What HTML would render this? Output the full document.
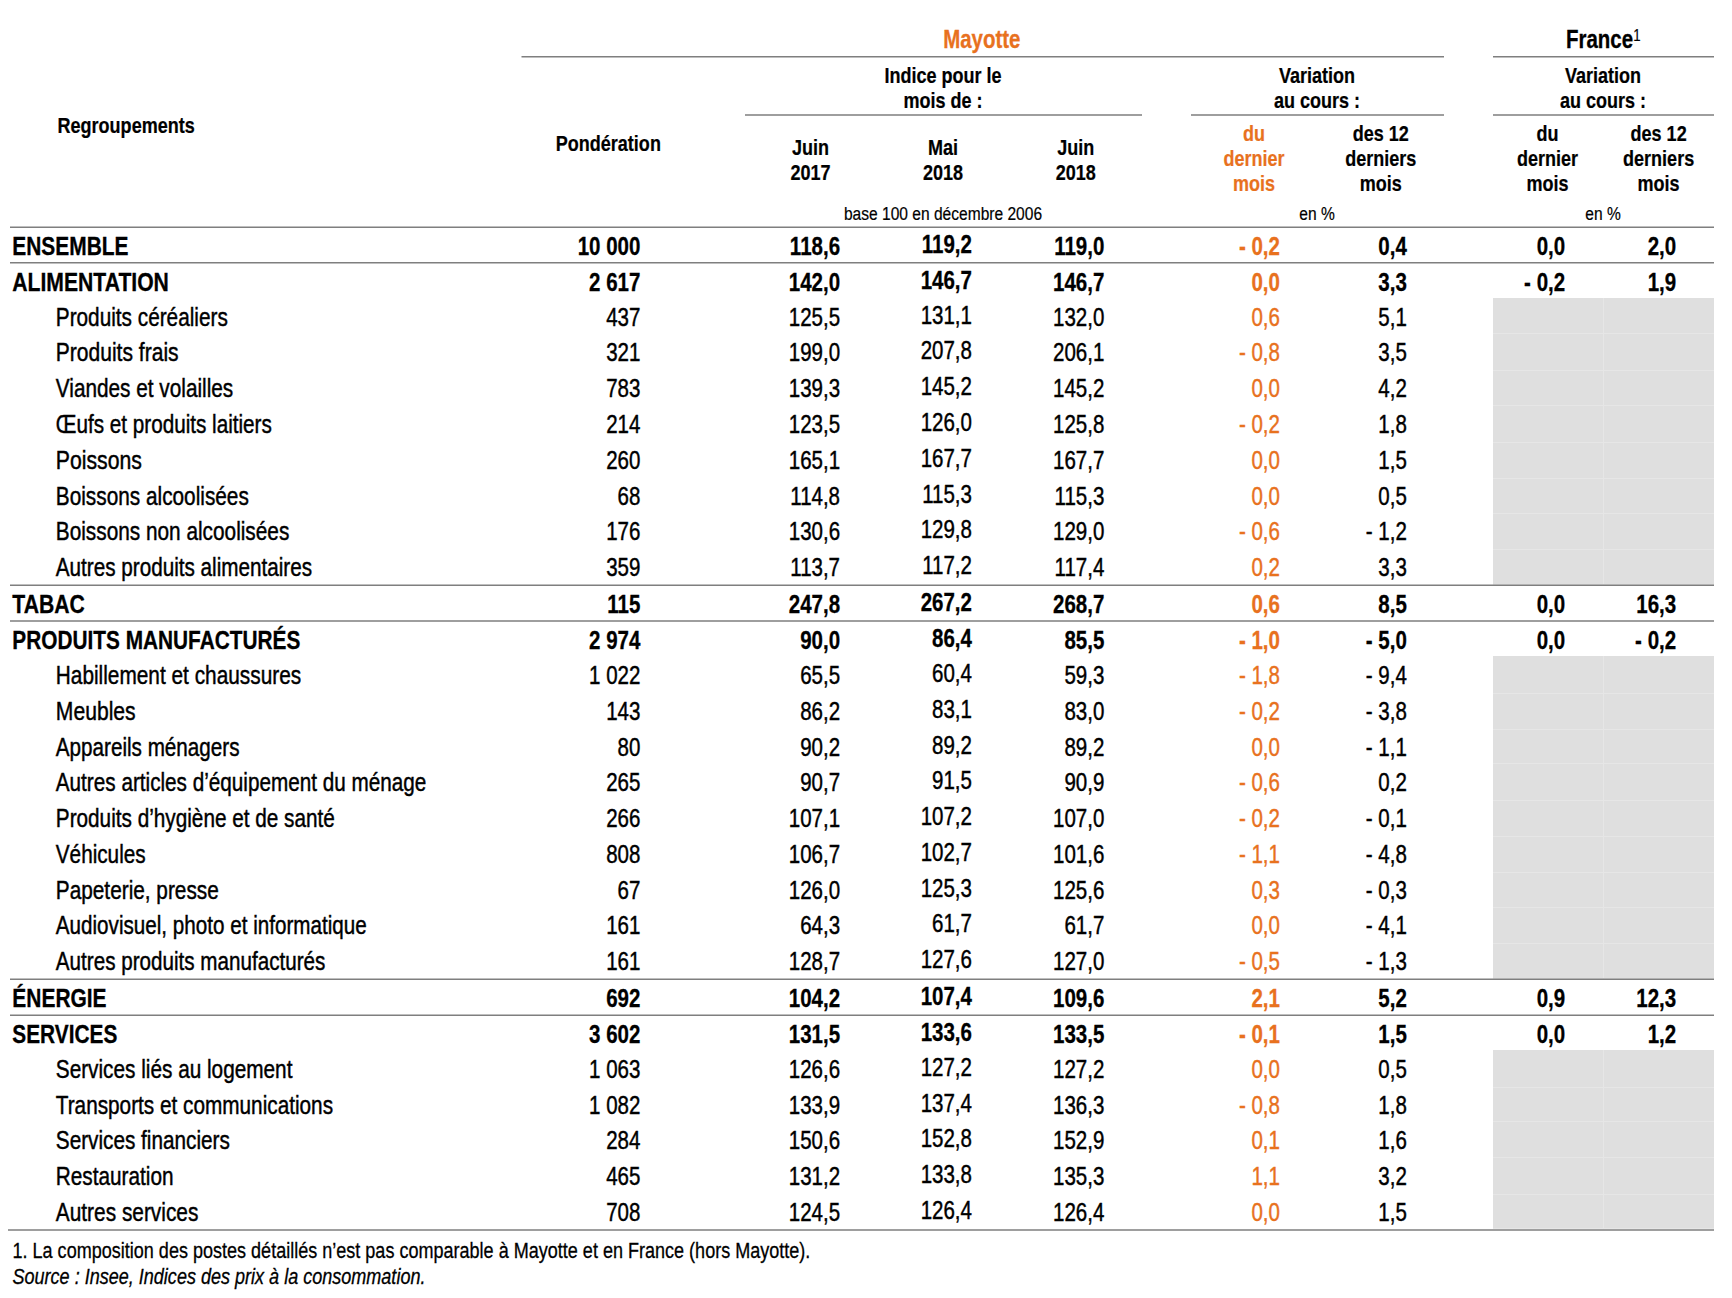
<!DOCTYPE html>
<html><head><meta charset="utf-8"><title>Indices des prix</title>
<style>
html,body{margin:0;padding:0;background:#fff;}
body{width:1732px;height:1298px;overflow:hidden;}
svg{display:block;font-family:"Liberation Sans",sans-serif;}
</style></head><body>
<svg width="1732" height="1298" viewBox="0 0 1732 1298">
<rect width="1732" height="1298" fill="#fff"/>
<rect x="1493" y="298" width="221" height="287" fill="#dfdfdf"/>
<rect x="1603" y="298" width="1" height="287" fill="#e6e6e6"/>
<rect x="1493" y="333" width="221" height="1" fill="#e6e6e6"/>
<rect x="1493" y="370" width="221" height="1" fill="#e6e6e6"/>
<rect x="1493" y="405" width="221" height="1" fill="#e6e6e6"/>
<rect x="1493" y="442" width="221" height="1" fill="#e6e6e6"/>
<rect x="1493" y="478" width="221" height="1" fill="#e6e6e6"/>
<rect x="1493" y="513" width="221" height="1" fill="#e6e6e6"/>
<rect x="1493" y="549" width="221" height="1" fill="#e6e6e6"/>
<rect x="1493" y="584" width="221" height="1" fill="#e6e6e6"/>
<rect x="1493" y="656" width="221" height="323" fill="#dfdfdf"/>
<rect x="1603" y="656" width="1" height="323" fill="#e6e6e6"/>
<rect x="1493" y="693" width="221" height="1" fill="#e6e6e6"/>
<rect x="1493" y="729" width="221" height="1" fill="#e6e6e6"/>
<rect x="1493" y="763" width="221" height="1" fill="#e6e6e6"/>
<rect x="1493" y="800" width="221" height="1" fill="#e6e6e6"/>
<rect x="1493" y="836" width="221" height="1" fill="#e6e6e6"/>
<rect x="1493" y="872" width="221" height="1" fill="#e6e6e6"/>
<rect x="1493" y="907" width="221" height="1" fill="#e6e6e6"/>
<rect x="1493" y="943" width="221" height="1" fill="#e6e6e6"/>
<rect x="1493" y="978" width="221" height="1" fill="#e6e6e6"/>
<rect x="1493" y="1050" width="221" height="179" fill="#dfdfdf"/>
<rect x="1603" y="1050" width="1" height="179" fill="#e6e6e6"/>
<rect x="1493" y="1087" width="221" height="1" fill="#e6e6e6"/>
<rect x="1493" y="1121" width="221" height="1" fill="#e6e6e6"/>
<rect x="1493" y="1157" width="221" height="1" fill="#e6e6e6"/>
<rect x="1493" y="1194" width="221" height="1" fill="#e6e6e6"/>
<rect x="1493" y="1228" width="221" height="1" fill="#e6e6e6"/>
<rect x="521.5" y="56.00" width="922.5" height="1.5" fill="#7f7f7f"/>
<rect x="1493" y="56.00" width="221" height="1.5" fill="#7f7f7f"/>
<rect x="745" y="114.25" width="397" height="1.5" fill="#7f7f7f"/>
<rect x="1191" y="114.25" width="253" height="1.5" fill="#7f7f7f"/>
<rect x="1493" y="114.25" width="221" height="1.5" fill="#7f7f7f"/>
<rect x="10" y="226.50" width="1704" height="1.5" fill="#7f7f7f"/>
<rect x="10" y="262.00" width="1704" height="1.5" fill="#7f7f7f"/>
<rect x="10" y="584.50" width="1704" height="1.5" fill="#7f7f7f"/>
<rect x="10" y="620.25" width="1704" height="1.5" fill="#7f7f7f"/>
<rect x="10" y="978.50" width="1704" height="1.5" fill="#7f7f7f"/>
<rect x="10" y="1014.50" width="1704" height="1.5" fill="#7f7f7f"/>
<rect x="8" y="1229.25" width="1706" height="1.5" fill="#7f7f7f"/>
<text transform="translate(981.80,47.80) scale(0.787,1)" font-size="26" font-weight="bold" fill="#e8711e" text-anchor="middle" stroke="#e8711e" stroke-width="0.3">Mayotte</text>
<text transform="translate(1599.50,47.80) scale(0.787,1)" font-size="26" font-weight="bold" fill="#000" text-anchor="middle" stroke="#000" stroke-width="0.3">France</text>
<text transform="translate(1636.80,41.00) scale(0.8,1)" font-size="16.5" font-weight="normal" fill="#000" text-anchor="middle" stroke="#000" stroke-width="0.2">1</text>
<text transform="translate(57.50,132.90) scale(0.82,1)" font-size="22" font-weight="bold" fill="#000" text-anchor="start" stroke="#000" stroke-width="0.22">Regroupements</text>
<text transform="translate(608.30,150.90) scale(0.82,1)" font-size="22" font-weight="bold" fill="#000" text-anchor="middle" stroke="#000" stroke-width="0.22">Pondération</text>
<text transform="translate(943.00,83.00) scale(0.82,1)" font-size="22" font-weight="bold" fill="#000" text-anchor="middle" stroke="#000" stroke-width="0.22">Indice pour le</text>
<text transform="translate(943.00,107.80) scale(0.82,1)" font-size="22" font-weight="bold" fill="#000" text-anchor="middle" stroke="#000" stroke-width="0.22">mois de :</text>
<text transform="translate(810.50,154.70) scale(0.82,1)" font-size="22" font-weight="bold" fill="#000" text-anchor="middle" stroke="#000" stroke-width="0.22">Juin</text>
<text transform="translate(810.50,179.60) scale(0.82,1)" font-size="22" font-weight="bold" fill="#000" text-anchor="middle" stroke="#000" stroke-width="0.22">2017</text>
<text transform="translate(943.00,154.70) scale(0.82,1)" font-size="22" font-weight="bold" fill="#000" text-anchor="middle" stroke="#000" stroke-width="0.22">Mai</text>
<text transform="translate(943.00,179.60) scale(0.82,1)" font-size="22" font-weight="bold" fill="#000" text-anchor="middle" stroke="#000" stroke-width="0.22">2018</text>
<text transform="translate(1075.80,154.70) scale(0.82,1)" font-size="22" font-weight="bold" fill="#000" text-anchor="middle" stroke="#000" stroke-width="0.22">Juin</text>
<text transform="translate(1075.80,179.60) scale(0.82,1)" font-size="22" font-weight="bold" fill="#000" text-anchor="middle" stroke="#000" stroke-width="0.22">2018</text>
<text transform="translate(943.00,219.60) scale(0.82,1)" font-size="19" font-weight="normal" fill="#000" text-anchor="middle" stroke="#000" stroke-width="0.2">base 100 en décembre 2006</text>
<text transform="translate(1317.00,82.50) scale(0.82,1)" font-size="22" font-weight="bold" fill="#000" text-anchor="middle" stroke="#000" stroke-width="0.22">Variation</text>
<text transform="translate(1317.00,107.50) scale(0.82,1)" font-size="22" font-weight="bold" fill="#000" text-anchor="middle" stroke="#000" stroke-width="0.22">au cours :</text>
<text transform="translate(1317.00,219.60) scale(0.82,1)" font-size="19" font-weight="normal" fill="#000" text-anchor="middle" stroke="#000" stroke-width="0.2">en %</text>
<text transform="translate(1603.00,82.50) scale(0.82,1)" font-size="22" font-weight="bold" fill="#000" text-anchor="middle" stroke="#000" stroke-width="0.22">Variation</text>
<text transform="translate(1603.00,107.50) scale(0.82,1)" font-size="22" font-weight="bold" fill="#000" text-anchor="middle" stroke="#000" stroke-width="0.22">au cours :</text>
<text transform="translate(1603.00,219.60) scale(0.82,1)" font-size="19" font-weight="normal" fill="#000" text-anchor="middle" stroke="#000" stroke-width="0.2">en %</text>
<text transform="translate(1254.00,141.30) scale(0.82,1)" font-size="22" font-weight="bold" fill="#e8711e" text-anchor="middle" stroke="#e8711e" stroke-width="0.22">du</text>
<text transform="translate(1254.00,166.30) scale(0.82,1)" font-size="22" font-weight="bold" fill="#e8711e" text-anchor="middle" stroke="#e8711e" stroke-width="0.22">dernier</text>
<text transform="translate(1254.00,191.20) scale(0.82,1)" font-size="22" font-weight="bold" fill="#e8711e" text-anchor="middle" stroke="#e8711e" stroke-width="0.22">mois</text>
<text transform="translate(1547.50,141.30) scale(0.82,1)" font-size="22" font-weight="bold" fill="#000" text-anchor="middle" stroke="#000" stroke-width="0.22">du</text>
<text transform="translate(1547.50,166.30) scale(0.82,1)" font-size="22" font-weight="bold" fill="#000" text-anchor="middle" stroke="#000" stroke-width="0.22">dernier</text>
<text transform="translate(1547.50,191.20) scale(0.82,1)" font-size="22" font-weight="bold" fill="#000" text-anchor="middle" stroke="#000" stroke-width="0.22">mois</text>
<text transform="translate(1380.70,141.30) scale(0.82,1)" font-size="22" font-weight="bold" fill="#000" text-anchor="middle" stroke="#000" stroke-width="0.22">des 12</text>
<text transform="translate(1380.70,166.30) scale(0.82,1)" font-size="22" font-weight="bold" fill="#000" text-anchor="middle" stroke="#000" stroke-width="0.22">derniers</text>
<text transform="translate(1380.70,191.20) scale(0.82,1)" font-size="22" font-weight="bold" fill="#000" text-anchor="middle" stroke="#000" stroke-width="0.22">mois</text>
<text transform="translate(1658.60,141.30) scale(0.82,1)" font-size="22" font-weight="bold" fill="#000" text-anchor="middle" stroke="#000" stroke-width="0.22">des 12</text>
<text transform="translate(1658.60,166.30) scale(0.82,1)" font-size="22" font-weight="bold" fill="#000" text-anchor="middle" stroke="#000" stroke-width="0.22">derniers</text>
<text transform="translate(1658.60,191.20) scale(0.82,1)" font-size="22" font-weight="bold" fill="#000" text-anchor="middle" stroke="#000" stroke-width="0.22">mois</text>
<text transform="translate(12.30,254.80) scale(0.8050192307692307,1)" font-size="26" font-weight="bold" fill="#000" text-anchor="start" stroke="#000" stroke-width="0.3">ENSEMBLE</text>
<text transform="translate(640.33,254.80) scale(0.7884615384615384,1)" font-size="26" font-weight="bold" fill="#000" text-anchor="end" stroke="#000" stroke-width="0.3">10 000</text>
<text transform="translate(840.03,254.80) scale(0.7884615384615384,1)" font-size="26" font-weight="bold" fill="#000" text-anchor="end" stroke="#000" stroke-width="0.3">118,6</text>
<text transform="translate(971.93,252.80) scale(0.7884615384615384,1)" font-size="26" font-weight="bold" fill="#000" text-anchor="end" stroke="#000" stroke-width="0.3">119,2</text>
<text transform="translate(1104.33,254.80) scale(0.7884615384615384,1)" font-size="26" font-weight="bold" fill="#000" text-anchor="end" stroke="#000" stroke-width="0.3">119,0</text>
<text transform="translate(1279.93,254.80) scale(0.7884615384615384,1)" font-size="26" font-weight="bold" fill="#e8711e" text-anchor="end" stroke="#e8711e" stroke-width="0.3">- 0,2</text>
<text transform="translate(1406.83,254.80) scale(0.7884615384615384,1)" font-size="26" font-weight="bold" fill="#000" text-anchor="end" stroke="#000" stroke-width="0.3">0,4</text>
<text transform="translate(1565.13,254.80) scale(0.7884615384615384,1)" font-size="26" font-weight="bold" fill="#000" text-anchor="end" stroke="#000" stroke-width="0.3">0,0</text>
<text transform="translate(1676.13,254.80) scale(0.7884615384615384,1)" font-size="26" font-weight="bold" fill="#000" text-anchor="end" stroke="#000" stroke-width="0.3">2,0</text>
<text transform="translate(12.30,290.50) scale(0.8136923076923077,1)" font-size="26" font-weight="bold" fill="#000" text-anchor="start" stroke="#000" stroke-width="0.3">ALIMENTATION</text>
<text transform="translate(640.33,290.50) scale(0.7884615384615384,1)" font-size="26" font-weight="bold" fill="#000" text-anchor="end" stroke="#000" stroke-width="0.3">2 617</text>
<text transform="translate(840.03,290.50) scale(0.7884615384615384,1)" font-size="26" font-weight="bold" fill="#000" text-anchor="end" stroke="#000" stroke-width="0.3">142,0</text>
<text transform="translate(971.93,288.50) scale(0.7884615384615384,1)" font-size="26" font-weight="bold" fill="#000" text-anchor="end" stroke="#000" stroke-width="0.3">146,7</text>
<text transform="translate(1104.33,290.50) scale(0.7884615384615384,1)" font-size="26" font-weight="bold" fill="#000" text-anchor="end" stroke="#000" stroke-width="0.3">146,7</text>
<text transform="translate(1279.93,290.50) scale(0.7884615384615384,1)" font-size="26" font-weight="bold" fill="#e8711e" text-anchor="end" stroke="#e8711e" stroke-width="0.3">0,0</text>
<text transform="translate(1406.83,290.50) scale(0.7884615384615384,1)" font-size="26" font-weight="bold" fill="#000" text-anchor="end" stroke="#000" stroke-width="0.3">3,3</text>
<text transform="translate(1565.13,290.50) scale(0.7884615384615384,1)" font-size="26" font-weight="bold" fill="#000" text-anchor="end" stroke="#000" stroke-width="0.3">- 0,2</text>
<text transform="translate(1676.13,290.50) scale(0.7884615384615384,1)" font-size="26" font-weight="bold" fill="#000" text-anchor="end" stroke="#000" stroke-width="0.3">1,9</text>
<text transform="translate(55.80,325.50) scale(0.7995,1)" font-size="26" font-weight="normal" fill="#000" text-anchor="start" stroke="#000" stroke-width="0.45">Produits céréaliers</text>
<text transform="translate(640.33,325.50) scale(0.7884615384615384,1)" font-size="26" font-weight="normal" fill="#000" text-anchor="end" stroke="#000" stroke-width="0.45">437</text>
<text transform="translate(840.03,325.50) scale(0.7884615384615384,1)" font-size="26" font-weight="normal" fill="#000" text-anchor="end" stroke="#000" stroke-width="0.45">125,5</text>
<text transform="translate(971.93,323.50) scale(0.7884615384615384,1)" font-size="26" font-weight="normal" fill="#000" text-anchor="end" stroke="#000" stroke-width="0.45">131,1</text>
<text transform="translate(1104.33,325.50) scale(0.7884615384615384,1)" font-size="26" font-weight="normal" fill="#000" text-anchor="end" stroke="#000" stroke-width="0.45">132,0</text>
<text transform="translate(1279.93,325.50) scale(0.7884615384615384,1)" font-size="26" font-weight="normal" fill="#e8711e" text-anchor="end" stroke="#e8711e" stroke-width="0.45">0,6</text>
<text transform="translate(1406.83,325.50) scale(0.7884615384615384,1)" font-size="26" font-weight="normal" fill="#000" text-anchor="end" stroke="#000" stroke-width="0.45">5,1</text>
<text transform="translate(55.80,360.70) scale(0.8097499999999999,1)" font-size="26" font-weight="normal" fill="#000" text-anchor="start" stroke="#000" stroke-width="0.45">Produits frais</text>
<text transform="translate(640.33,360.70) scale(0.7884615384615384,1)" font-size="26" font-weight="normal" fill="#000" text-anchor="end" stroke="#000" stroke-width="0.45">321</text>
<text transform="translate(840.03,360.70) scale(0.7884615384615384,1)" font-size="26" font-weight="normal" fill="#000" text-anchor="end" stroke="#000" stroke-width="0.45">199,0</text>
<text transform="translate(971.93,358.70) scale(0.7884615384615384,1)" font-size="26" font-weight="normal" fill="#000" text-anchor="end" stroke="#000" stroke-width="0.45">207,8</text>
<text transform="translate(1104.33,360.70) scale(0.7884615384615384,1)" font-size="26" font-weight="normal" fill="#000" text-anchor="end" stroke="#000" stroke-width="0.45">206,1</text>
<text transform="translate(1279.93,360.70) scale(0.7884615384615384,1)" font-size="26" font-weight="normal" fill="#e8711e" text-anchor="end" stroke="#e8711e" stroke-width="0.45">- 0,8</text>
<text transform="translate(1406.83,360.70) scale(0.7884615384615384,1)" font-size="26" font-weight="normal" fill="#000" text-anchor="end" stroke="#000" stroke-width="0.45">3,5</text>
<text transform="translate(55.80,397.00) scale(0.7995,1)" font-size="26" font-weight="normal" fill="#000" text-anchor="start" stroke="#000" stroke-width="0.45">Viandes et volailles</text>
<text transform="translate(640.33,397.00) scale(0.7884615384615384,1)" font-size="26" font-weight="normal" fill="#000" text-anchor="end" stroke="#000" stroke-width="0.45">783</text>
<text transform="translate(840.03,397.00) scale(0.7884615384615384,1)" font-size="26" font-weight="normal" fill="#000" text-anchor="end" stroke="#000" stroke-width="0.45">139,3</text>
<text transform="translate(971.93,395.00) scale(0.7884615384615384,1)" font-size="26" font-weight="normal" fill="#000" text-anchor="end" stroke="#000" stroke-width="0.45">145,2</text>
<text transform="translate(1104.33,397.00) scale(0.7884615384615384,1)" font-size="26" font-weight="normal" fill="#000" text-anchor="end" stroke="#000" stroke-width="0.45">145,2</text>
<text transform="translate(1279.93,397.00) scale(0.7884615384615384,1)" font-size="26" font-weight="normal" fill="#e8711e" text-anchor="end" stroke="#e8711e" stroke-width="0.45">0,0</text>
<text transform="translate(1406.83,397.00) scale(0.7884615384615384,1)" font-size="26" font-weight="normal" fill="#000" text-anchor="end" stroke="#000" stroke-width="0.45">4,2</text>
<text transform="translate(55.80,432.60) scale(0.7955576923076922,1)" font-size="26" font-weight="normal" fill="#000" text-anchor="start" stroke="#000" stroke-width="0.45">Œufs et produits laitiers</text>
<text transform="translate(640.33,432.60) scale(0.7884615384615384,1)" font-size="26" font-weight="normal" fill="#000" text-anchor="end" stroke="#000" stroke-width="0.45">214</text>
<text transform="translate(840.03,432.60) scale(0.7884615384615384,1)" font-size="26" font-weight="normal" fill="#000" text-anchor="end" stroke="#000" stroke-width="0.45">123,5</text>
<text transform="translate(971.93,430.60) scale(0.7884615384615384,1)" font-size="26" font-weight="normal" fill="#000" text-anchor="end" stroke="#000" stroke-width="0.45">126,0</text>
<text transform="translate(1104.33,432.60) scale(0.7884615384615384,1)" font-size="26" font-weight="normal" fill="#000" text-anchor="end" stroke="#000" stroke-width="0.45">125,8</text>
<text transform="translate(1279.93,432.60) scale(0.7884615384615384,1)" font-size="26" font-weight="normal" fill="#e8711e" text-anchor="end" stroke="#e8711e" stroke-width="0.45">- 0,2</text>
<text transform="translate(1406.83,432.60) scale(0.7884615384615384,1)" font-size="26" font-weight="normal" fill="#000" text-anchor="end" stroke="#000" stroke-width="0.45">1,8</text>
<text transform="translate(55.80,469.00) scale(0.8160576923076922,1)" font-size="26" font-weight="normal" fill="#000" text-anchor="start" stroke="#000" stroke-width="0.45">Poissons</text>
<text transform="translate(640.33,469.00) scale(0.7884615384615384,1)" font-size="26" font-weight="normal" fill="#000" text-anchor="end" stroke="#000" stroke-width="0.45">260</text>
<text transform="translate(840.03,469.00) scale(0.7884615384615384,1)" font-size="26" font-weight="normal" fill="#000" text-anchor="end" stroke="#000" stroke-width="0.45">165,1</text>
<text transform="translate(971.93,467.00) scale(0.7884615384615384,1)" font-size="26" font-weight="normal" fill="#000" text-anchor="end" stroke="#000" stroke-width="0.45">167,7</text>
<text transform="translate(1104.33,469.00) scale(0.7884615384615384,1)" font-size="26" font-weight="normal" fill="#000" text-anchor="end" stroke="#000" stroke-width="0.45">167,7</text>
<text transform="translate(1279.93,469.00) scale(0.7884615384615384,1)" font-size="26" font-weight="normal" fill="#e8711e" text-anchor="end" stroke="#e8711e" stroke-width="0.45">0,0</text>
<text transform="translate(1406.83,469.00) scale(0.7884615384615384,1)" font-size="26" font-weight="normal" fill="#000" text-anchor="end" stroke="#000" stroke-width="0.45">1,5</text>
<text transform="translate(55.80,505.00) scale(0.8002884615384614,1)" font-size="26" font-weight="normal" fill="#000" text-anchor="start" stroke="#000" stroke-width="0.45">Boissons alcoolisées</text>
<text transform="translate(640.33,505.00) scale(0.7884615384615384,1)" font-size="26" font-weight="normal" fill="#000" text-anchor="end" stroke="#000" stroke-width="0.45">68</text>
<text transform="translate(840.03,505.00) scale(0.7884615384615384,1)" font-size="26" font-weight="normal" fill="#000" text-anchor="end" stroke="#000" stroke-width="0.45">114,8</text>
<text transform="translate(971.93,503.00) scale(0.7884615384615384,1)" font-size="26" font-weight="normal" fill="#000" text-anchor="end" stroke="#000" stroke-width="0.45">115,3</text>
<text transform="translate(1104.33,505.00) scale(0.7884615384615384,1)" font-size="26" font-weight="normal" fill="#000" text-anchor="end" stroke="#000" stroke-width="0.45">115,3</text>
<text transform="translate(1279.93,505.00) scale(0.7884615384615384,1)" font-size="26" font-weight="normal" fill="#e8711e" text-anchor="end" stroke="#e8711e" stroke-width="0.45">0,0</text>
<text transform="translate(1406.83,505.00) scale(0.7884615384615384,1)" font-size="26" font-weight="normal" fill="#000" text-anchor="end" stroke="#000" stroke-width="0.45">0,5</text>
<text transform="translate(55.80,540.00) scale(0.8002884615384614,1)" font-size="26" font-weight="normal" fill="#000" text-anchor="start" stroke="#000" stroke-width="0.45">Boissons non alcoolisées</text>
<text transform="translate(640.33,540.00) scale(0.7884615384615384,1)" font-size="26" font-weight="normal" fill="#000" text-anchor="end" stroke="#000" stroke-width="0.45">176</text>
<text transform="translate(840.03,540.00) scale(0.7884615384615384,1)" font-size="26" font-weight="normal" fill="#000" text-anchor="end" stroke="#000" stroke-width="0.45">130,6</text>
<text transform="translate(971.93,538.00) scale(0.7884615384615384,1)" font-size="26" font-weight="normal" fill="#000" text-anchor="end" stroke="#000" stroke-width="0.45">129,8</text>
<text transform="translate(1104.33,540.00) scale(0.7884615384615384,1)" font-size="26" font-weight="normal" fill="#000" text-anchor="end" stroke="#000" stroke-width="0.45">129,0</text>
<text transform="translate(1279.93,540.00) scale(0.7884615384615384,1)" font-size="26" font-weight="normal" fill="#e8711e" text-anchor="end" stroke="#e8711e" stroke-width="0.45">- 0,6</text>
<text transform="translate(1406.83,540.00) scale(0.7884615384615384,1)" font-size="26" font-weight="normal" fill="#000" text-anchor="end" stroke="#000" stroke-width="0.45">- 1,2</text>
<text transform="translate(55.80,576.00) scale(0.7955576923076922,1)" font-size="26" font-weight="normal" fill="#000" text-anchor="start" stroke="#000" stroke-width="0.45">Autres produits alimentaires</text>
<text transform="translate(640.33,576.00) scale(0.7884615384615384,1)" font-size="26" font-weight="normal" fill="#000" text-anchor="end" stroke="#000" stroke-width="0.45">359</text>
<text transform="translate(840.03,576.00) scale(0.7884615384615384,1)" font-size="26" font-weight="normal" fill="#000" text-anchor="end" stroke="#000" stroke-width="0.45">113,7</text>
<text transform="translate(971.93,574.00) scale(0.7884615384615384,1)" font-size="26" font-weight="normal" fill="#000" text-anchor="end" stroke="#000" stroke-width="0.45">117,2</text>
<text transform="translate(1104.33,576.00) scale(0.7884615384615384,1)" font-size="26" font-weight="normal" fill="#000" text-anchor="end" stroke="#000" stroke-width="0.45">117,4</text>
<text transform="translate(1279.93,576.00) scale(0.7884615384615384,1)" font-size="26" font-weight="normal" fill="#e8711e" text-anchor="end" stroke="#e8711e" stroke-width="0.45">0,2</text>
<text transform="translate(1406.83,576.00) scale(0.7884615384615384,1)" font-size="26" font-weight="normal" fill="#000" text-anchor="end" stroke="#000" stroke-width="0.45">3,3</text>
<text transform="translate(12.30,612.60) scale(0.8144807692307692,1)" font-size="26" font-weight="bold" fill="#000" text-anchor="start" stroke="#000" stroke-width="0.3">TABAC</text>
<text transform="translate(640.33,612.60) scale(0.7884615384615384,1)" font-size="26" font-weight="bold" fill="#000" text-anchor="end" stroke="#000" stroke-width="0.3">115</text>
<text transform="translate(840.03,612.60) scale(0.7884615384615384,1)" font-size="26" font-weight="bold" fill="#000" text-anchor="end" stroke="#000" stroke-width="0.3">247,8</text>
<text transform="translate(971.93,610.60) scale(0.7884615384615384,1)" font-size="26" font-weight="bold" fill="#000" text-anchor="end" stroke="#000" stroke-width="0.3">267,2</text>
<text transform="translate(1104.33,612.60) scale(0.7884615384615384,1)" font-size="26" font-weight="bold" fill="#000" text-anchor="end" stroke="#000" stroke-width="0.3">268,7</text>
<text transform="translate(1279.93,612.60) scale(0.7884615384615384,1)" font-size="26" font-weight="bold" fill="#e8711e" text-anchor="end" stroke="#e8711e" stroke-width="0.3">0,6</text>
<text transform="translate(1406.83,612.60) scale(0.7884615384615384,1)" font-size="26" font-weight="bold" fill="#000" text-anchor="end" stroke="#000" stroke-width="0.3">8,5</text>
<text transform="translate(1565.13,612.60) scale(0.7884615384615384,1)" font-size="26" font-weight="bold" fill="#000" text-anchor="end" stroke="#000" stroke-width="0.3">0,0</text>
<text transform="translate(1676.13,612.60) scale(0.7884615384615384,1)" font-size="26" font-weight="bold" fill="#000" text-anchor="end" stroke="#000" stroke-width="0.3">16,3</text>
<text transform="translate(12.30,648.60) scale(0.801076923076923,1)" font-size="26" font-weight="bold" fill="#000" text-anchor="start" stroke="#000" stroke-width="0.3">PRODUITS MANUFACTURÉS</text>
<text transform="translate(640.33,648.60) scale(0.7884615384615384,1)" font-size="26" font-weight="bold" fill="#000" text-anchor="end" stroke="#000" stroke-width="0.3">2 974</text>
<text transform="translate(840.03,648.60) scale(0.7884615384615384,1)" font-size="26" font-weight="bold" fill="#000" text-anchor="end" stroke="#000" stroke-width="0.3">90,0</text>
<text transform="translate(971.93,646.60) scale(0.7884615384615384,1)" font-size="26" font-weight="bold" fill="#000" text-anchor="end" stroke="#000" stroke-width="0.3">86,4</text>
<text transform="translate(1104.33,648.60) scale(0.7884615384615384,1)" font-size="26" font-weight="bold" fill="#000" text-anchor="end" stroke="#000" stroke-width="0.3">85,5</text>
<text transform="translate(1279.93,648.60) scale(0.7884615384615384,1)" font-size="26" font-weight="bold" fill="#e8711e" text-anchor="end" stroke="#e8711e" stroke-width="0.3">- 1,0</text>
<text transform="translate(1406.83,648.60) scale(0.7884615384615384,1)" font-size="26" font-weight="bold" fill="#000" text-anchor="end" stroke="#000" stroke-width="0.3">- 5,0</text>
<text transform="translate(1565.13,648.60) scale(0.7884615384615384,1)" font-size="26" font-weight="bold" fill="#000" text-anchor="end" stroke="#000" stroke-width="0.3">0,0</text>
<text transform="translate(1676.13,648.60) scale(0.7884615384615384,1)" font-size="26" font-weight="bold" fill="#000" text-anchor="end" stroke="#000" stroke-width="0.3">- 0,2</text>
<text transform="translate(55.80,684.00) scale(0.801076923076923,1)" font-size="26" font-weight="normal" fill="#000" text-anchor="start" stroke="#000" stroke-width="0.45">Habillement et chaussures</text>
<text transform="translate(640.33,684.00) scale(0.7884615384615384,1)" font-size="26" font-weight="normal" fill="#000" text-anchor="end" stroke="#000" stroke-width="0.45">1 022</text>
<text transform="translate(840.03,684.00) scale(0.7884615384615384,1)" font-size="26" font-weight="normal" fill="#000" text-anchor="end" stroke="#000" stroke-width="0.45">65,5</text>
<text transform="translate(971.93,682.00) scale(0.7884615384615384,1)" font-size="26" font-weight="normal" fill="#000" text-anchor="end" stroke="#000" stroke-width="0.45">60,4</text>
<text transform="translate(1104.33,684.00) scale(0.7884615384615384,1)" font-size="26" font-weight="normal" fill="#000" text-anchor="end" stroke="#000" stroke-width="0.45">59,3</text>
<text transform="translate(1279.93,684.00) scale(0.7884615384615384,1)" font-size="26" font-weight="normal" fill="#e8711e" text-anchor="end" stroke="#e8711e" stroke-width="0.45">- 1,8</text>
<text transform="translate(1406.83,684.00) scale(0.7884615384615384,1)" font-size="26" font-weight="normal" fill="#000" text-anchor="end" stroke="#000" stroke-width="0.45">- 9,4</text>
<text transform="translate(55.80,720.00) scale(0.812903846153846,1)" font-size="26" font-weight="normal" fill="#000" text-anchor="start" stroke="#000" stroke-width="0.45">Meubles</text>
<text transform="translate(640.33,720.00) scale(0.7884615384615384,1)" font-size="26" font-weight="normal" fill="#000" text-anchor="end" stroke="#000" stroke-width="0.45">143</text>
<text transform="translate(840.03,720.00) scale(0.7884615384615384,1)" font-size="26" font-weight="normal" fill="#000" text-anchor="end" stroke="#000" stroke-width="0.45">86,2</text>
<text transform="translate(971.93,718.00) scale(0.7884615384615384,1)" font-size="26" font-weight="normal" fill="#000" text-anchor="end" stroke="#000" stroke-width="0.45">83,1</text>
<text transform="translate(1104.33,720.00) scale(0.7884615384615384,1)" font-size="26" font-weight="normal" fill="#000" text-anchor="end" stroke="#000" stroke-width="0.45">83,0</text>
<text transform="translate(1279.93,720.00) scale(0.7884615384615384,1)" font-size="26" font-weight="normal" fill="#e8711e" text-anchor="end" stroke="#e8711e" stroke-width="0.45">- 0,2</text>
<text transform="translate(1406.83,720.00) scale(0.7884615384615384,1)" font-size="26" font-weight="normal" fill="#000" text-anchor="end" stroke="#000" stroke-width="0.45">- 3,8</text>
<text transform="translate(55.80,756.00) scale(0.7947692307692308,1)" font-size="26" font-weight="normal" fill="#000" text-anchor="start" stroke="#000" stroke-width="0.45">Appareils ménagers</text>
<text transform="translate(640.33,756.00) scale(0.7884615384615384,1)" font-size="26" font-weight="normal" fill="#000" text-anchor="end" stroke="#000" stroke-width="0.45">80</text>
<text transform="translate(840.03,756.00) scale(0.7884615384615384,1)" font-size="26" font-weight="normal" fill="#000" text-anchor="end" stroke="#000" stroke-width="0.45">90,2</text>
<text transform="translate(971.93,754.00) scale(0.7884615384615384,1)" font-size="26" font-weight="normal" fill="#000" text-anchor="end" stroke="#000" stroke-width="0.45">89,2</text>
<text transform="translate(1104.33,756.00) scale(0.7884615384615384,1)" font-size="26" font-weight="normal" fill="#000" text-anchor="end" stroke="#000" stroke-width="0.45">89,2</text>
<text transform="translate(1279.93,756.00) scale(0.7884615384615384,1)" font-size="26" font-weight="normal" fill="#e8711e" text-anchor="end" stroke="#e8711e" stroke-width="0.45">0,0</text>
<text transform="translate(1406.83,756.00) scale(0.7884615384615384,1)" font-size="26" font-weight="normal" fill="#000" text-anchor="end" stroke="#000" stroke-width="0.45">- 1,1</text>
<text transform="translate(55.80,790.80) scale(0.7963461538461538,1)" font-size="26" font-weight="normal" fill="#000" text-anchor="start" stroke="#000" stroke-width="0.45">Autres articles d’équipement du ménage</text>
<text transform="translate(640.33,790.80) scale(0.7884615384615384,1)" font-size="26" font-weight="normal" fill="#000" text-anchor="end" stroke="#000" stroke-width="0.45">265</text>
<text transform="translate(840.03,790.80) scale(0.7884615384615384,1)" font-size="26" font-weight="normal" fill="#000" text-anchor="end" stroke="#000" stroke-width="0.45">90,7</text>
<text transform="translate(971.93,788.80) scale(0.7884615384615384,1)" font-size="26" font-weight="normal" fill="#000" text-anchor="end" stroke="#000" stroke-width="0.45">91,5</text>
<text transform="translate(1104.33,790.80) scale(0.7884615384615384,1)" font-size="26" font-weight="normal" fill="#000" text-anchor="end" stroke="#000" stroke-width="0.45">90,9</text>
<text transform="translate(1279.93,790.80) scale(0.7884615384615384,1)" font-size="26" font-weight="normal" fill="#e8711e" text-anchor="end" stroke="#e8711e" stroke-width="0.45">- 0,6</text>
<text transform="translate(1406.83,790.80) scale(0.7884615384615384,1)" font-size="26" font-weight="normal" fill="#000" text-anchor="end" stroke="#000" stroke-width="0.45">0,2</text>
<text transform="translate(55.80,827.00) scale(0.797923076923077,1)" font-size="26" font-weight="normal" fill="#000" text-anchor="start" stroke="#000" stroke-width="0.45">Produits d’hygiène et de santé</text>
<text transform="translate(640.33,827.00) scale(0.7884615384615384,1)" font-size="26" font-weight="normal" fill="#000" text-anchor="end" stroke="#000" stroke-width="0.45">266</text>
<text transform="translate(840.03,827.00) scale(0.7884615384615384,1)" font-size="26" font-weight="normal" fill="#000" text-anchor="end" stroke="#000" stroke-width="0.45">107,1</text>
<text transform="translate(971.93,825.00) scale(0.7884615384615384,1)" font-size="26" font-weight="normal" fill="#000" text-anchor="end" stroke="#000" stroke-width="0.45">107,2</text>
<text transform="translate(1104.33,827.00) scale(0.7884615384615384,1)" font-size="26" font-weight="normal" fill="#000" text-anchor="end" stroke="#000" stroke-width="0.45">107,0</text>
<text transform="translate(1279.93,827.00) scale(0.7884615384615384,1)" font-size="26" font-weight="normal" fill="#e8711e" text-anchor="end" stroke="#e8711e" stroke-width="0.45">- 0,2</text>
<text transform="translate(1406.83,827.00) scale(0.7884615384615384,1)" font-size="26" font-weight="normal" fill="#000" text-anchor="end" stroke="#000" stroke-width="0.45">- 0,1</text>
<text transform="translate(55.80,863.00) scale(0.7971346153846153,1)" font-size="26" font-weight="normal" fill="#000" text-anchor="start" stroke="#000" stroke-width="0.45">Véhicules</text>
<text transform="translate(640.33,863.00) scale(0.7884615384615384,1)" font-size="26" font-weight="normal" fill="#000" text-anchor="end" stroke="#000" stroke-width="0.45">808</text>
<text transform="translate(840.03,863.00) scale(0.7884615384615384,1)" font-size="26" font-weight="normal" fill="#000" text-anchor="end" stroke="#000" stroke-width="0.45">106,7</text>
<text transform="translate(971.93,861.00) scale(0.7884615384615384,1)" font-size="26" font-weight="normal" fill="#000" text-anchor="end" stroke="#000" stroke-width="0.45">102,7</text>
<text transform="translate(1104.33,863.00) scale(0.7884615384615384,1)" font-size="26" font-weight="normal" fill="#000" text-anchor="end" stroke="#000" stroke-width="0.45">101,6</text>
<text transform="translate(1279.93,863.00) scale(0.7884615384615384,1)" font-size="26" font-weight="normal" fill="#e8711e" text-anchor="end" stroke="#e8711e" stroke-width="0.45">- 1,1</text>
<text transform="translate(1406.83,863.00) scale(0.7884615384615384,1)" font-size="26" font-weight="normal" fill="#000" text-anchor="end" stroke="#000" stroke-width="0.45">- 4,8</text>
<text transform="translate(55.80,899.00) scale(0.8002884615384614,1)" font-size="26" font-weight="normal" fill="#000" text-anchor="start" stroke="#000" stroke-width="0.45">Papeterie, presse</text>
<text transform="translate(640.33,899.00) scale(0.7884615384615384,1)" font-size="26" font-weight="normal" fill="#000" text-anchor="end" stroke="#000" stroke-width="0.45">67</text>
<text transform="translate(840.03,899.00) scale(0.7884615384615384,1)" font-size="26" font-weight="normal" fill="#000" text-anchor="end" stroke="#000" stroke-width="0.45">126,0</text>
<text transform="translate(971.93,897.00) scale(0.7884615384615384,1)" font-size="26" font-weight="normal" fill="#000" text-anchor="end" stroke="#000" stroke-width="0.45">125,3</text>
<text transform="translate(1104.33,899.00) scale(0.7884615384615384,1)" font-size="26" font-weight="normal" fill="#000" text-anchor="end" stroke="#000" stroke-width="0.45">125,6</text>
<text transform="translate(1279.93,899.00) scale(0.7884615384615384,1)" font-size="26" font-weight="normal" fill="#e8711e" text-anchor="end" stroke="#e8711e" stroke-width="0.45">0,3</text>
<text transform="translate(1406.83,899.00) scale(0.7884615384615384,1)" font-size="26" font-weight="normal" fill="#000" text-anchor="end" stroke="#000" stroke-width="0.45">- 0,3</text>
<text transform="translate(55.80,934.40) scale(0.7939807692307691,1)" font-size="26" font-weight="normal" fill="#000" text-anchor="start" stroke="#000" stroke-width="0.45">Audiovisuel, photo et informatique</text>
<text transform="translate(640.33,934.40) scale(0.7884615384615384,1)" font-size="26" font-weight="normal" fill="#000" text-anchor="end" stroke="#000" stroke-width="0.45">161</text>
<text transform="translate(840.03,934.40) scale(0.7884615384615384,1)" font-size="26" font-weight="normal" fill="#000" text-anchor="end" stroke="#000" stroke-width="0.45">64,3</text>
<text transform="translate(971.93,932.40) scale(0.7884615384615384,1)" font-size="26" font-weight="normal" fill="#000" text-anchor="end" stroke="#000" stroke-width="0.45">61,7</text>
<text transform="translate(1104.33,934.40) scale(0.7884615384615384,1)" font-size="26" font-weight="normal" fill="#000" text-anchor="end" stroke="#000" stroke-width="0.45">61,7</text>
<text transform="translate(1279.93,934.40) scale(0.7884615384615384,1)" font-size="26" font-weight="normal" fill="#e8711e" text-anchor="end" stroke="#e8711e" stroke-width="0.45">0,0</text>
<text transform="translate(1406.83,934.40) scale(0.7884615384615384,1)" font-size="26" font-weight="normal" fill="#000" text-anchor="end" stroke="#000" stroke-width="0.45">- 4,1</text>
<text transform="translate(55.80,970.00) scale(0.7939807692307691,1)" font-size="26" font-weight="normal" fill="#000" text-anchor="start" stroke="#000" stroke-width="0.45">Autres produits manufacturés</text>
<text transform="translate(640.33,970.00) scale(0.7884615384615384,1)" font-size="26" font-weight="normal" fill="#000" text-anchor="end" stroke="#000" stroke-width="0.45">161</text>
<text transform="translate(840.03,970.00) scale(0.7884615384615384,1)" font-size="26" font-weight="normal" fill="#000" text-anchor="end" stroke="#000" stroke-width="0.45">128,7</text>
<text transform="translate(971.93,968.00) scale(0.7884615384615384,1)" font-size="26" font-weight="normal" fill="#000" text-anchor="end" stroke="#000" stroke-width="0.45">127,6</text>
<text transform="translate(1104.33,970.00) scale(0.7884615384615384,1)" font-size="26" font-weight="normal" fill="#000" text-anchor="end" stroke="#000" stroke-width="0.45">127,0</text>
<text transform="translate(1279.93,970.00) scale(0.7884615384615384,1)" font-size="26" font-weight="normal" fill="#e8711e" text-anchor="end" stroke="#e8711e" stroke-width="0.45">- 0,5</text>
<text transform="translate(1406.83,970.00) scale(0.7884615384615384,1)" font-size="26" font-weight="normal" fill="#000" text-anchor="end" stroke="#000" stroke-width="0.45">- 1,3</text>
<text transform="translate(12.30,1007.00) scale(0.8058076923076923,1)" font-size="26" font-weight="bold" fill="#000" text-anchor="start" stroke="#000" stroke-width="0.3">ÉNERGIE</text>
<text transform="translate(640.33,1007.00) scale(0.7884615384615384,1)" font-size="26" font-weight="bold" fill="#000" text-anchor="end" stroke="#000" stroke-width="0.3">692</text>
<text transform="translate(840.03,1007.00) scale(0.7884615384615384,1)" font-size="26" font-weight="bold" fill="#000" text-anchor="end" stroke="#000" stroke-width="0.3">104,2</text>
<text transform="translate(971.93,1005.00) scale(0.7884615384615384,1)" font-size="26" font-weight="bold" fill="#000" text-anchor="end" stroke="#000" stroke-width="0.3">107,4</text>
<text transform="translate(1104.33,1007.00) scale(0.7884615384615384,1)" font-size="26" font-weight="bold" fill="#000" text-anchor="end" stroke="#000" stroke-width="0.3">109,6</text>
<text transform="translate(1279.93,1007.00) scale(0.7884615384615384,1)" font-size="26" font-weight="bold" fill="#e8711e" text-anchor="end" stroke="#e8711e" stroke-width="0.3">2,1</text>
<text transform="translate(1406.83,1007.00) scale(0.7884615384615384,1)" font-size="26" font-weight="bold" fill="#000" text-anchor="end" stroke="#000" stroke-width="0.3">5,2</text>
<text transform="translate(1565.13,1007.00) scale(0.7884615384615384,1)" font-size="26" font-weight="bold" fill="#000" text-anchor="end" stroke="#000" stroke-width="0.3">0,9</text>
<text transform="translate(1676.13,1007.00) scale(0.7884615384615384,1)" font-size="26" font-weight="bold" fill="#000" text-anchor="end" stroke="#000" stroke-width="0.3">12,3</text>
<text transform="translate(12.30,1042.60) scale(0.8018653846153845,1)" font-size="26" font-weight="bold" fill="#000" text-anchor="start" stroke="#000" stroke-width="0.3">SERVICES</text>
<text transform="translate(640.33,1042.60) scale(0.7884615384615384,1)" font-size="26" font-weight="bold" fill="#000" text-anchor="end" stroke="#000" stroke-width="0.3">3 602</text>
<text transform="translate(840.03,1042.60) scale(0.7884615384615384,1)" font-size="26" font-weight="bold" fill="#000" text-anchor="end" stroke="#000" stroke-width="0.3">131,5</text>
<text transform="translate(971.93,1040.60) scale(0.7884615384615384,1)" font-size="26" font-weight="bold" fill="#000" text-anchor="end" stroke="#000" stroke-width="0.3">133,6</text>
<text transform="translate(1104.33,1042.60) scale(0.7884615384615384,1)" font-size="26" font-weight="bold" fill="#000" text-anchor="end" stroke="#000" stroke-width="0.3">133,5</text>
<text transform="translate(1279.93,1042.60) scale(0.7884615384615384,1)" font-size="26" font-weight="bold" fill="#e8711e" text-anchor="end" stroke="#e8711e" stroke-width="0.3">- 0,1</text>
<text transform="translate(1406.83,1042.60) scale(0.7884615384615384,1)" font-size="26" font-weight="bold" fill="#000" text-anchor="end" stroke="#000" stroke-width="0.3">1,5</text>
<text transform="translate(1565.13,1042.60) scale(0.7884615384615384,1)" font-size="26" font-weight="bold" fill="#000" text-anchor="end" stroke="#000" stroke-width="0.3">0,0</text>
<text transform="translate(1676.13,1042.60) scale(0.7884615384615384,1)" font-size="26" font-weight="bold" fill="#000" text-anchor="end" stroke="#000" stroke-width="0.3">1,2</text>
<text transform="translate(55.80,1078.00) scale(0.7995,1)" font-size="26" font-weight="normal" fill="#000" text-anchor="start" stroke="#000" stroke-width="0.45">Services liés au logement</text>
<text transform="translate(640.33,1078.00) scale(0.7884615384615384,1)" font-size="26" font-weight="normal" fill="#000" text-anchor="end" stroke="#000" stroke-width="0.45">1 063</text>
<text transform="translate(840.03,1078.00) scale(0.7884615384615384,1)" font-size="26" font-weight="normal" fill="#000" text-anchor="end" stroke="#000" stroke-width="0.45">126,6</text>
<text transform="translate(971.93,1076.00) scale(0.7884615384615384,1)" font-size="26" font-weight="normal" fill="#000" text-anchor="end" stroke="#000" stroke-width="0.45">127,2</text>
<text transform="translate(1104.33,1078.00) scale(0.7884615384615384,1)" font-size="26" font-weight="normal" fill="#000" text-anchor="end" stroke="#000" stroke-width="0.45">127,2</text>
<text transform="translate(1279.93,1078.00) scale(0.7884615384615384,1)" font-size="26" font-weight="normal" fill="#e8711e" text-anchor="end" stroke="#e8711e" stroke-width="0.45">0,0</text>
<text transform="translate(1406.83,1078.00) scale(0.7884615384615384,1)" font-size="26" font-weight="normal" fill="#000" text-anchor="end" stroke="#000" stroke-width="0.45">0,5</text>
<text transform="translate(55.80,1114.00) scale(0.7987115384615383,1)" font-size="26" font-weight="normal" fill="#000" text-anchor="start" stroke="#000" stroke-width="0.45">Transports et communications</text>
<text transform="translate(640.33,1114.00) scale(0.7884615384615384,1)" font-size="26" font-weight="normal" fill="#000" text-anchor="end" stroke="#000" stroke-width="0.45">1 082</text>
<text transform="translate(840.03,1114.00) scale(0.7884615384615384,1)" font-size="26" font-weight="normal" fill="#000" text-anchor="end" stroke="#000" stroke-width="0.45">133,9</text>
<text transform="translate(971.93,1112.00) scale(0.7884615384615384,1)" font-size="26" font-weight="normal" fill="#000" text-anchor="end" stroke="#000" stroke-width="0.45">137,4</text>
<text transform="translate(1104.33,1114.00) scale(0.7884615384615384,1)" font-size="26" font-weight="normal" fill="#000" text-anchor="end" stroke="#000" stroke-width="0.45">136,3</text>
<text transform="translate(1279.93,1114.00) scale(0.7884615384615384,1)" font-size="26" font-weight="normal" fill="#e8711e" text-anchor="end" stroke="#e8711e" stroke-width="0.45">- 0,8</text>
<text transform="translate(1406.83,1114.00) scale(0.7884615384615384,1)" font-size="26" font-weight="normal" fill="#000" text-anchor="end" stroke="#000" stroke-width="0.45">1,8</text>
<text transform="translate(55.80,1148.80) scale(0.797923076923077,1)" font-size="26" font-weight="normal" fill="#000" text-anchor="start" stroke="#000" stroke-width="0.45">Services financiers</text>
<text transform="translate(640.33,1148.80) scale(0.7884615384615384,1)" font-size="26" font-weight="normal" fill="#000" text-anchor="end" stroke="#000" stroke-width="0.45">284</text>
<text transform="translate(840.03,1148.80) scale(0.7884615384615384,1)" font-size="26" font-weight="normal" fill="#000" text-anchor="end" stroke="#000" stroke-width="0.45">150,6</text>
<text transform="translate(971.93,1146.80) scale(0.7884615384615384,1)" font-size="26" font-weight="normal" fill="#000" text-anchor="end" stroke="#000" stroke-width="0.45">152,8</text>
<text transform="translate(1104.33,1148.80) scale(0.7884615384615384,1)" font-size="26" font-weight="normal" fill="#000" text-anchor="end" stroke="#000" stroke-width="0.45">152,9</text>
<text transform="translate(1279.93,1148.80) scale(0.7884615384615384,1)" font-size="26" font-weight="normal" fill="#e8711e" text-anchor="end" stroke="#e8711e" stroke-width="0.45">0,1</text>
<text transform="translate(1406.83,1148.80) scale(0.7884615384615384,1)" font-size="26" font-weight="normal" fill="#000" text-anchor="end" stroke="#000" stroke-width="0.45">1,6</text>
<text transform="translate(55.80,1184.70) scale(0.7987115384615383,1)" font-size="26" font-weight="normal" fill="#000" text-anchor="start" stroke="#000" stroke-width="0.45">Restauration</text>
<text transform="translate(640.33,1184.70) scale(0.7884615384615384,1)" font-size="26" font-weight="normal" fill="#000" text-anchor="end" stroke="#000" stroke-width="0.45">465</text>
<text transform="translate(840.03,1184.70) scale(0.7884615384615384,1)" font-size="26" font-weight="normal" fill="#000" text-anchor="end" stroke="#000" stroke-width="0.45">131,2</text>
<text transform="translate(971.93,1182.70) scale(0.7884615384615384,1)" font-size="26" font-weight="normal" fill="#000" text-anchor="end" stroke="#000" stroke-width="0.45">133,8</text>
<text transform="translate(1104.33,1184.70) scale(0.7884615384615384,1)" font-size="26" font-weight="normal" fill="#000" text-anchor="end" stroke="#000" stroke-width="0.45">135,3</text>
<text transform="translate(1279.93,1184.70) scale(0.7884615384615384,1)" font-size="26" font-weight="normal" fill="#e8711e" text-anchor="end" stroke="#e8711e" stroke-width="0.45">1,1</text>
<text transform="translate(1406.83,1184.70) scale(0.7884615384615384,1)" font-size="26" font-weight="normal" fill="#000" text-anchor="end" stroke="#000" stroke-width="0.45">3,2</text>
<text transform="translate(55.80,1221.00) scale(0.8026538461538462,1)" font-size="26" font-weight="normal" fill="#000" text-anchor="start" stroke="#000" stroke-width="0.45">Autres services</text>
<text transform="translate(640.33,1221.00) scale(0.7884615384615384,1)" font-size="26" font-weight="normal" fill="#000" text-anchor="end" stroke="#000" stroke-width="0.45">708</text>
<text transform="translate(840.03,1221.00) scale(0.7884615384615384,1)" font-size="26" font-weight="normal" fill="#000" text-anchor="end" stroke="#000" stroke-width="0.45">124,5</text>
<text transform="translate(971.93,1219.00) scale(0.7884615384615384,1)" font-size="26" font-weight="normal" fill="#000" text-anchor="end" stroke="#000" stroke-width="0.45">126,4</text>
<text transform="translate(1104.33,1221.00) scale(0.7884615384615384,1)" font-size="26" font-weight="normal" fill="#000" text-anchor="end" stroke="#000" stroke-width="0.45">126,4</text>
<text transform="translate(1279.93,1221.00) scale(0.7884615384615384,1)" font-size="26" font-weight="normal" fill="#e8711e" text-anchor="end" stroke="#e8711e" stroke-width="0.45">0,0</text>
<text transform="translate(1406.83,1221.00) scale(0.7884615384615384,1)" font-size="26" font-weight="normal" fill="#000" text-anchor="end" stroke="#000" stroke-width="0.45">1,5</text>
<text transform="translate(12.50,1257.60) scale(0.82,1)" font-size="22" font-weight="normal" fill="#000" text-anchor="start" stroke="#000" stroke-width="0.3">1. La composition des postes détaillés n’est pas comparable à Mayotte et en France (hors Mayotte).</text>
<text transform="translate(12.50,1283.80) scale(0.82,1)" font-size="22" font-weight="normal" fill="#000" text-anchor="start" font-style="italic" stroke="#000" stroke-width="0.3">Source : Insee, Indices des prix à la consommation.</text>
</svg>
</body></html>
